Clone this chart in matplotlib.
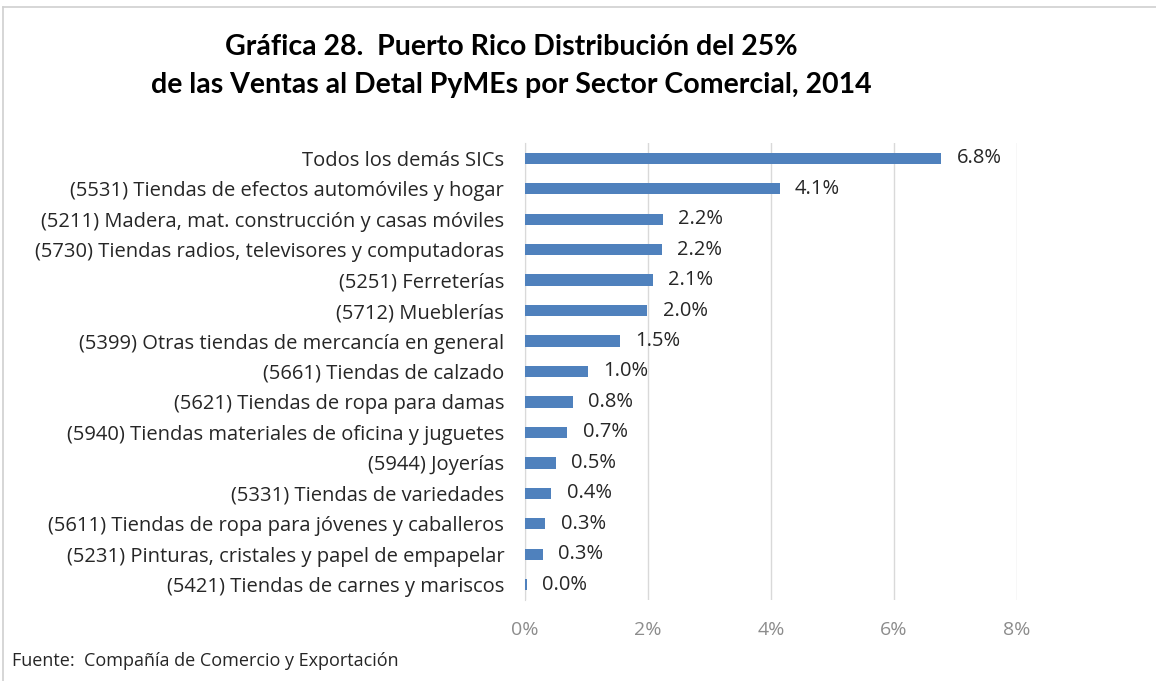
import matplotlib
matplotlib.use("Agg")
import matplotlib.pyplot as plt
from matplotlib.lines import Line2D
from matplotlib.ticker import FuncFormatter

plt.rcParams['font.family'] = ['Open Sans', 'DejaVu Sans']

categories = [
    "Todos los demás SICs",
    "(5531) Tiendas de efectos automóviles y hogar",
    "(5211) Madera, mat. construcción y casas móviles",
    "(5730) Tiendas radios, televisores y computadoras",
    "(5251) Ferreterías",
    "(5712) Mueblerías",
    "(5399) Otras tiendas de mercancía en general",
    "(5661) Tiendas de calzado",
    "(5621) Tiendas de ropa para damas",
    "(5940) Tiendas materiales de oficina y juguetes",
    "(5944) Joyerías",
    "(5331) Tiendas de variedades",
    "(5611) Tiendas de ropa para jóvenes y caballeros",
    "(5231) Pinturas, cristales y papel de empapelar",
    "(5421) Tiendas de carnes y mariscos",
]
values = [6.77, 4.14, 2.24, 2.22, 2.08, 1.99, 1.54, 1.02, 0.78, 0.69, 0.50, 0.43, 0.33, 0.29, 0.03]
xticks = [0, 2, 4, 6, 8]

title = "Gráfica 28.  Puerto Rico Distribución del 25%\nde las Ventas al Detal PyMEs por Sector Comercial, 2014"
source = "Fuente:  Compañía de Comercio y Exportación"

W, H = 1156, 681
fig = plt.figure(figsize=(W / 100, H / 100), dpi=100)
fig.patch.set_facecolor("white")

ax = fig.add_axes([525 / W, 1 - 600 / H, (1017 - 525) / W, (600 - 143) / H])
y = list(range(len(categories)))
bars = ax.barh(y, values, height=0.37, color="#4F81BD", zorder=3)
ax.set_ylim(len(categories) - 0.5, -0.5)
ax.set_xlim(0, 8)
ax.set_xticks(xticks)
ax.xaxis.set_major_formatter(FuncFormatter(lambda v, p: f"{v:.0f}%"))
ax.set_yticks(y)
ax.set_yticklabels(categories, fontsize=14.5, color="#262626")
ax.tick_params(axis="y", length=0, pad=15)
ax.tick_params(axis="x", length=0, pad=15, labelsize=14, labelcolor="#8C8C8C")
for s in ["top", "right", "bottom"]:
    ax.spines[s].set_visible(False)
ax.spines["left"].set_color("#D9D9D9")
ax.grid(axis="x", color="#D9D9D9", linewidth=1, zorder=0)
ax.set_axisbelow(True)

for rect, v in zip(bars, values):
    ax.annotate(f"{v:.1f}%", xy=(rect.get_width(), rect.get_y() + rect.get_height() / 2),
                xytext=(11, 0), textcoords="offset points", va="center", ha="left",
                fontsize=14.5, color="#262626")

fig.text(511 / W, 1 - 66 / H, title, ha="center", va="center", fontsize=20.5,
         fontweight="bold", color="#000000", linespacing=1.55, family=["Lato", "DejaVu Sans"])
fig.text(12 / W, 1 - 661 / H, source, ha="left", va="center", fontsize=13, color="#262626")

fig.add_artist(Line2D([3 / W, 3 / W], [0, 1 - 7 / H], transform=fig.transFigure, color="#D0D0D0", lw=1.2))
fig.add_artist(Line2D([3 / W, 1], [1 - 7 / H, 1 - 7 / H], transform=fig.transFigure, color="#D0D0D0", lw=1.2))

fig.savefig("out.png", dpi=100, facecolor="white")
